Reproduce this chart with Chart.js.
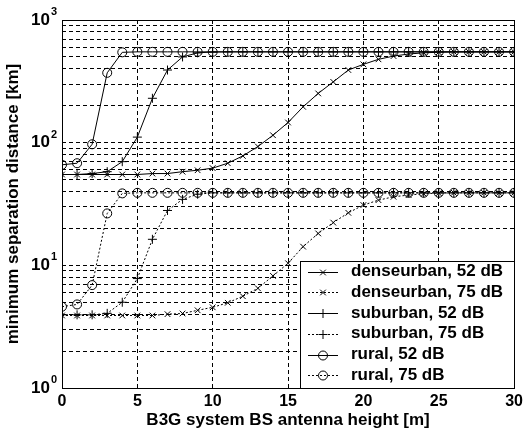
<!DOCTYPE html>
<html lang="en">
<head>
  <meta charset="UTF-8">
  <title>Minimum separation distance vs BS antenna height</title>
  <script src="https://cdn.jsdelivr.net/npm/chart.js"></script>
  <style>
    body {
      margin: 0;
      background: #fff;
    }
    canvas {
      display: block;
    }
  </style>
</head>
<body>
  <canvas id="sepChart" width="527" height="435"></canvas>

  <script>
    // antenna heights [m]
    const heights = [0, 1, 2, 3, 4, 5, 6, 7, 8, 9, 10, 11, 12, 13, 14, 15,
                     16, 17, 18, 19, 20, 21, 22, 23, 24, 25, 26, 27, 28, 29, 30];

    // separation distances [km]
    const dense52 = [55, 55, 55, 55, 55, 55, 56, 56, 58, 59.6, 62, 68, 78, 93, 115, 146,
                     196, 252, 313, 391, 435, 478, 508, 528, 540, 546, 550, 550, 550, 550, 550];
    const dense75 = [3.9, 3.9, 3.9, 3.9, 3.9, 3.9, 3.9, 4.0, 4.05, 4.3, 4.55, 4.95, 5.6, 6.5, 8.2, 10.4,
                     14.2, 18.2, 22.3, 26.8, 31, 34, 36.2, 37.4, 38.3, 38.8, 39, 39, 39, 39, 39];
    const sub52 = [55, 55, 56, 58, 70, 111, 230, 391, 500, 540, 548, 550, 550, 550, 550, 550,
                   550, 550, 550, 550, 550, 550, 550, 550, 550, 550, 550, 550, 550, 550, 550];
    const sub75 = [3.95, 3.95, 3.95, 4.06, 5.0, 7.8, 16.3, 28, 34.5, 38, 39, 39, 39, 39, 39, 39,
                   39, 39, 39, 39, 39, 39, 39, 39, 39, 39, 39, 39, 39, 39, 39];
    const rural52 = [66, 68, 97, 371, 545, 550, 550, 550, 550, 550, 550, 550, 550, 550, 550, 550,
                     550, 550, 550, 550, 550, 550, 550, 550, 550, 550, 550, 550, 550, 550, 550];
    const rural75 = [4.6, 4.8, 6.9, 26.5, 38.6, 39, 39, 39, 39, 39, 39, 39, 39, 39, 39, 39,
                     39, 39, 39, 39, 39, 39, 39, 39, 39, 39, 39, 39, 39, 39, 39];

    const seriesNames = ['denseurban, 52 dB', 'denseurban, 75 dB', 'suburban, 52 dB',
                         'suburban, 75 dB', 'rural, 52 dB', 'rural, 75 dB'];

    // axis ticks
    const xTicks = [0, 5, 10, 15, 20, 25, 30];
    const yDecades = [1, 10, 100, 1000];
    const yExponents = ['0', '1', '2', '3'];

    const FONT = '"Liberation Sans", Arial, sans-serif';

    function toPoints(values) {
      return heights.map((h, i) => ({ x: h, y: values[i] }));
    }

    function makeSeries(label, values, marker, radius, dashed) {
      return {
        label: label,
        data: toPoints(values),
        borderColor: '#000',
        borderWidth: 1,
        borderDash: dashed ? [2, 2] : [],
        pointStyle: marker,
        pointRadius: radius,
        pointBorderColor: '#000',
        pointBackgroundColor: 'rgba(0,0,0,0)',
        pointBorderWidth: 1,
        tension: 0,
        fill: false
      };
    }

    // marker drawing for the legend rows
    function drawMarker(ctx, style, r, x, y) {
      ctx.beginPath();
      if (style === 'circle') {
        ctx.arc(x, y, r, 0, Math.PI * 2);
      } else if (style === 'cross') {
        ctx.moveTo(x - r, y); ctx.lineTo(x + r, y);
        ctx.moveTo(x, y - r); ctx.lineTo(x, y + r);
      } else {
        const d = r * Math.SQRT1_2;
        ctx.moveTo(x - d, y - d); ctx.lineTo(x + d, y + d);
        ctx.moveTo(x - d, y + d); ctx.lineTo(x + d, y - d);
      }
      ctx.stroke();
    }

    const decorations = {
      id: 'decorations',
      afterDraw(chart) {
        const { ctx, chartArea: a, scales: { y } } = chart;
        ctx.save();

        // axes box
        ctx.strokeStyle = '#000';
        ctx.lineWidth = 1;
        ctx.setLineDash([]);
        ctx.strokeRect(Math.round(a.left) + 0.5, Math.round(a.top) + 0.5,
                       Math.round(a.right - a.left), Math.round(a.bottom - a.top));

        // y tick labels with exponents
        ctx.fillStyle = '#000';
        ctx.textBaseline = 'middle';
        yDecades.forEach((v, i) => {
          const py = y.getPixelForValue(v);
          ctx.font = 'bold 17px ' + FONT;
          ctx.textAlign = 'right';
          ctx.fillText('10', 50, py);
          ctx.font = 'bold 11px ' + FONT;
          ctx.textAlign = 'left';
          ctx.fillText(yExponents[i], 51, py - 8);
        });

        // legend box in the lower right corner
        const lx = 300, ly = 261;
        const lw = Math.round(a.right) - lx, lh = Math.round(a.bottom) - ly;
        ctx.fillStyle = '#fff';
        ctx.fillRect(lx, ly, lw, lh);
        ctx.strokeRect(lx + 0.5, ly + 0.5, lw, lh);

        chart.data.datasets.forEach((ds, i) => {
          const ry = 271.7 + i * 20.7;
          ctx.strokeStyle = '#000';
          ctx.setLineDash(ds.borderDash);
          ctx.beginPath();
          ctx.moveTo(308, Math.round(ry) + 0.5);
          ctx.lineTo(338, Math.round(ry) + 0.5);
          ctx.stroke();
          ctx.setLineDash([]);
          drawMarker(ctx, ds.pointStyle, ds.pointRadius, 323, Math.round(ry) + 0.5);
          ctx.fillStyle = '#000';
          ctx.font = 'bold 17px ' + FONT;
          ctx.textAlign = 'left';
          ctx.textBaseline = 'middle';
          ctx.fillText(ds.label, 351, ry);
        });

        ctx.restore();
      }
    };

    const ctx = document.getElementById('sepChart').getContext('2d');

    const sepChart = new Chart(ctx, {
      type: 'line',
      data: {
        datasets: [
          makeSeries(seriesNames[0], dense52, 'crossRot', 4, false),
          makeSeries(seriesNames[1], dense75, 'crossRot', 4, true),
          makeSeries(seriesNames[2], sub52, 'cross', 4.5, false),
          makeSeries(seriesNames[3], sub75, 'cross', 4.5, true),
          makeSeries(seriesNames[4], rural52, 'circle', 4.5, false),
          makeSeries(seriesNames[5], rural75, 'circle', 4.5, true)
        ]
      },
      options: {
        responsive: false,
        animation: false,
        layout: {
          padding: { top: 20, right: 9, left: 0, bottom: 0 }
        },
        plugins: {
          legend: { display: false },
          tooltip: { enabled: false }
        },
        scales: {
          x: {
            type: 'linear',
            min: 0,
            max: 30,
            afterBuildTicks: (scale) => {
              scale.ticks = xTicks.map(v => ({ value: v }));
            },
            afterFit: (scale) => {
              scale.height = 47;
            },
            grid: { color: '#000', lineWidth: 1, drawTicks: false },
            border: { display: false, dash: [4, 3] },
            ticks: {
              color: '#000',
              padding: 4,
              maxRotation: 0,
              font: { family: FONT, size: 16, weight: 'bold' }
            },
            title: {
              display: true,
              text: 'B3G system BS antenna height [m]',
              color: '#000',
              font: { family: FONT, size: 17, weight: 'bold' },
              padding: { top: 0, bottom: 4 }
            }
          },
          y: {
            type: 'logarithmic',
            min: 1,
            max: 1000,
            afterBuildTicks: (scale) => {
              const ticks = [];
              yDecades.forEach((d, i) => {
                const last = i === yDecades.length - 1;
                for (let m = 1; m <= (last ? 1 : 9); m++) {
                  ticks.push({ value: d * m, major: m === 1 });
                }
              });
              scale.ticks = ticks;
            },
            afterFit: (scale) => {
              scale.width = 62;
            },
            grid: { color: '#000', lineWidth: 1, drawTicks: false },
            border: { display: false, dash: [4, 3] },
            ticks: { display: false },
            title: {
              display: true,
              text: 'minimum separation distance [km]',
              color: '#000',
              font: { family: FONT, size: 17, weight: 'bold' },
              padding: { top: 3, bottom: 0 }
            }
          }
        }
      },
      plugins: [decorations]
    });
  </script>
</body>
</html>
